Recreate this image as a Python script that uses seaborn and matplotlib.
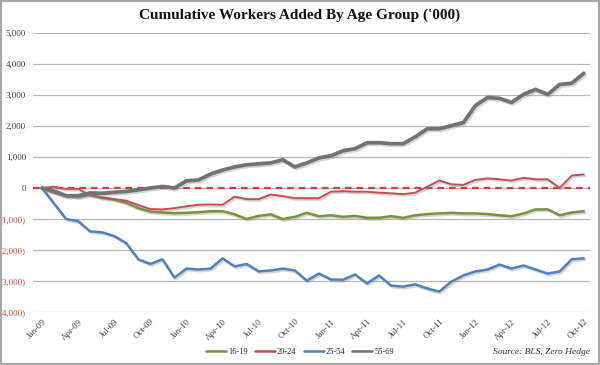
import pandas as pd
import seaborn as sns
import matplotlib.pyplot as plt
from matplotlib import patheffects as pe
from matplotlib.patches import Rectangle
from matplotlib.lines import Line2D

# Monthly cumulative change ('000), Jan-09 .. Oct-12 (46 months)
age_16_19 = [0, -150, -250, -290, -220, -320, -370, -480, -650, -760, -790, -810,
             -800, -780, -750, -750, -850, -1000, -900, -850, -1000, -930, -800, -910,
             -880, -930, -900, -960, -960, -910, -960, -880, -840, -820, -800, -820,
             -820, -840, -880, -910, -820, -690, -690, -880, -790, -750]
age_20_24 = [0, 40, -30, -30, -230, -300, -360, -410, -550, -680, -690, -650,
             -590, -540, -530, -540, -280, -360, -360, -210, -260, -330, -330, -330,
             -120, -100, -120, -120, -150, -170, -200, -150, 40, 240, 120, 100,
             260, 310, 280, 240, 330, 280, 280, 0, 400, 440]
age_25_54 = [0, -500, -1000, -1070, -1400, -1430, -1550, -1780, -2300, -2450, -2300, -2890,
             -2600, -2630, -2600, -2270, -2530, -2450, -2690, -2660, -2600, -2660, -2990, -2760,
             -2950, -2960, -2790, -3080, -2820, -3150, -3180, -3110, -3240, -3340, -3020, -2820,
             -2690, -2630, -2470, -2600, -2500, -2630, -2760, -2690, -2300, -2270]
age_55_69 = [0, -100, -250, -250, -160, -170, -140, -110, -60, 0, 50, 0,
             230, 260, 450, 580, 680, 750, 780, 810, 910, 680, 810, 970,
             1040, 1200, 1270, 1460, 1460, 1430, 1430, 1650, 1910, 1910, 2010, 2110,
             2660, 2920, 2890, 2760, 3020, 3180, 3020, 3340, 3380, 3700]

groups = ["16-19", "20-24", "25-54", "55-69"]
tick_labels = ["Jan-09", "Apr-09", "Jul-09", "Oct-09", "Jan-10", "Apr-10", "Jul-10", "Oct-10",
               "Jan-11", "Apr-11", "Jul-11", "Oct-11", "Jan-12", "Apr-12", "Jul-12", "Oct-12"]

colors = {"16-19": "#77933c", "20-24": "#c0504d", "25-54": "#4f81bd", "55-69": "#727272"}
widths = {"16-19": 1.8, "20-24": 1.4, "25-54": 1.8, "55-69": 2.7}

wide = pd.DataFrame({"16-19": age_16_19, "20-24": age_20_24,
                     "25-54": age_25_54, "55-69": age_55_69})
wide["month"] = range(len(wide))
long = wide.melt(id_vars="month", var_name="group", value_name="value")

sns.set_theme(style="white")
plt.rcParams['font.family'] = ['Liberation Serif', 'DejaVu Serif']

fig = plt.figure(figsize=(6, 3.65), dpi=100)
ax = fig.add_axes([0.055, 0.1452, 0.928, 0.7644])

# gridlines and dashed zero line
ax.set_yticks(range(-4000, 5001, 1000))
ax.yaxis.grid(True, color="#b8b8b8", lw=0.9)
ax.xaxis.grid(False)
ax.axhline(0, color="#d93a3a", ls=(0, (3, 2.2)), lw=1.6, zorder=1)

sns.lineplot(data=long, x="month", y="value", hue="group", hue_order=groups,
             size="group", sizes=widths, palette=colors, legend=False, ax=ax, zorder=3)

for line in ax.lines[1:]:
    line.set_path_effects([pe.SimpleLineShadow(offset=(1.0, -1.2), shadow_color="#888888", alpha=0.35),
                           pe.Normal()])

ax.set_xlim(-0.75, 45.5)
ax.set_ylim(-4000, 5000)
for s in ax.spines.values():
    s.set_visible(False)
ax.set_xlabel("")
ax.set_ylabel("")
ax.tick_params(length=0)

def fmt(v):
    if v < 0:
        return "({:,})".format(-v)
    return "{:,}".format(v)

yt = list(range(-4000, 5001, 1000))
ax.set_yticklabels([fmt(v) for v in yt], fontsize=6.5)
for lab, v in zip(ax.get_yticklabels(), yt):
    lab.set_color("#e04040" if v < 0 else "#404040")
ax.tick_params(axis="y", pad=5)

ax.set_xticks(range(0, 46, 3))
ax.set_xticklabels(tick_labels, rotation=45, ha="right", rotation_mode="anchor",
                   fontsize=6.5, color="#404040")
ax.tick_params(axis="x", pad=4)

fig.text(0.5, 1 - 15 / 365, "Cumulative Workers Added By Age Group ('000)",
         ha="center", va="center", fontsize=11, weight="bold", color="#111111")

handles = [Line2D([], [], color=colors[g], lw=1.8) for g in groups]
fig.legend(handles, groups, loc="center", bbox_to_anchor=(0.5, 1 - 352 / 365), ncol=4,
           frameon=False, fontsize=6, handlelength=2.4, columnspacing=0.9, handletextpad=0.2)
fig.text(590 / 600, 1 - 352 / 365, "Source: BLS, Zero Hedge", ha="right", va="center",
         style="italic", fontsize=6.8, color="#333333")

fig.patches.append(Rectangle((0.001, 0.002), 0.997, 0.995, transform=fig.transFigure,
                             fill=False, edgecolor="#a8a8a8", lw=1.5))

fig.savefig("out.png", dpi=100)
